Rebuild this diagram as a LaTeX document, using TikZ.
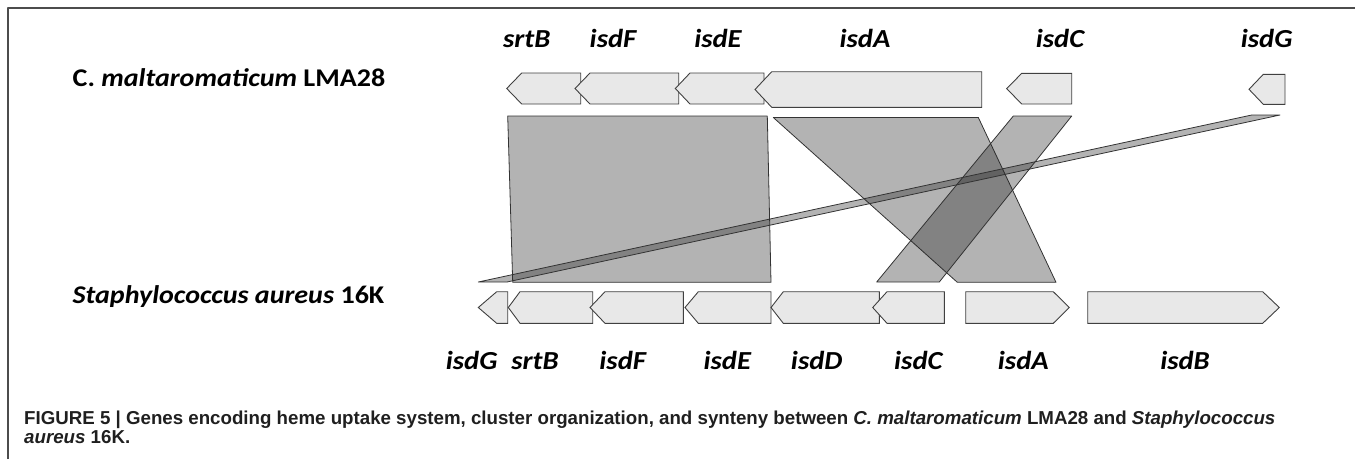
\documentclass[tikz,border=0pt]{standalone}
\usepackage{fontspec}
\setmainfont{Liberation Sans}
\newfontfamily\genefont[FakeStretch=1.1]{Carlito}
\usetikzlibrary{calc}

\tikzset{
    gene/.style={draw=black!75, fill=gray!18, line width=0.9pt, line join=miter},
    synteny/.style={draw=black!80, fill=black!85, fill opacity=0.35, line width=0.8pt},
    genelabel/.style={font=\genefont\bfseries\itshape\fontsize{26}{29}\selectfont, inner sep=0pt, anchor=base},
    rowlabel/.style={font=\genefont\bfseries\fontsize{25.5}{28}\selectfont, inner sep=0pt, anchor=base west},
    caption/.style={font=\bfseries\fontsize{18.7}{21}\selectfont, text=black!88, inner sep=0pt, anchor=base west}
}

\begin{document}
\begin{tikzpicture}[line cap=round,line join=round,x=1pt,y=-1pt]
    \useasboundingbox (0,0) rectangle (1355,459);

    % frame
    \draw[black!70, line width=1.2pt, line cap=butt] (8,459) -- (8,8) -- (1355,8);

    % strain names
    \node[rowlabel] (cmal) at (72.5,86) {C. \textit{maltaromaticum} LMA28};
    \node[rowlabel] (saur) at (72.5,303) {\textit{Staphylococcus aureus} 16K};

    % top row genes: tip/corner/right/top/bottom
    \foreach \tip/\cor/\rgt/\ya/\yb in {506.7/521.7/580.7/73/104, 575/590/678.7/73/104,
        675.3/690/764/73/104, 755/771.7/981.7/71.7/107.3, 1006.7/1021.7/1071.7/73.3/104,
        1249/1263.3/1285/74.3/104.3} {
            \draw[gene] (\tip,{(\ya+\yb)/2}) -- (\cor,\ya) -- (\rgt,\ya) -- (\rgt,\yb) -- (\cor,\yb) -- cycle;
        }

    % bottom row genes, pointing left
    \foreach \tip/\cor/\rgt in {478.3/496.7/507.7, 508.3/520/592.7, 590/605/683.3,
        685/698.3/771, 771/783.3/879.3, 872.7/887/944.3} {
            \draw[gene] (\tip,307.5) -- (\cor,291.7) -- (\rgt,291.7) -- (\rgt,323.3) -- (\cor,323.3) -- cycle;
        }
    % bottom row genes, pointing right
    \foreach \lft/\cor/\tip in {965.7/1053.3/1069.3, 1087.7/1262.7/1279.3} {
            \draw[gene] (\lft,291.7) -- (\cor,291.7) -- (\tip,307.5) -- (\cor,323.3) -- (\lft,323.3) -- cycle;
        }

    % gene names
    \foreach \name/\xpos in {srtB/526.7, isdF/613, isdE/718, isdA/865, isdC/1060, isdG/1266.7} {
            \node[genelabel] (top\name) at (\xpos,47) {\name};
        }
    \foreach \name/\xpos in {isdG/471.7, srtB/535, isdF/622.7, isdE/727.3, isdD/816.7,
        isdC/918.3, isdA/1023.3, isdB/1185} {
            \node[genelabel] (bot\name) at (\xpos,369) {\name};
        }

    % synteny blocks
    \draw[synteny] (507.7,116) -- (767.3,116) -- (771,282.3) -- (512.7,282.3) -- cycle;
    \draw[synteny] (773.3,117.5) -- (978.3,117.5) -- (1056,282.3) -- (957.3,282.3) -- cycle;
    \draw[synteny] (1013.3,116) -- (1071.7,116) -- (939.3,282) -- (876.7,282) -- cycle;
    \draw[synteny] (1251.7,115) -- (1280,115) -- (507,282) -- (478.3,282) -- cycle;

    % caption
    \node[caption] (cap1) at (24,424) {FIGURE 5 | Genes encoding heme uptake system, cluster organization, and synteny between \textit{C.~maltaromaticum} LMA28 and \textit{Staphylococcus}};
    \node[caption] (cap2) at (24,443.5) {\textit{aureus} 16K.};
\end{tikzpicture}
\end{document}
